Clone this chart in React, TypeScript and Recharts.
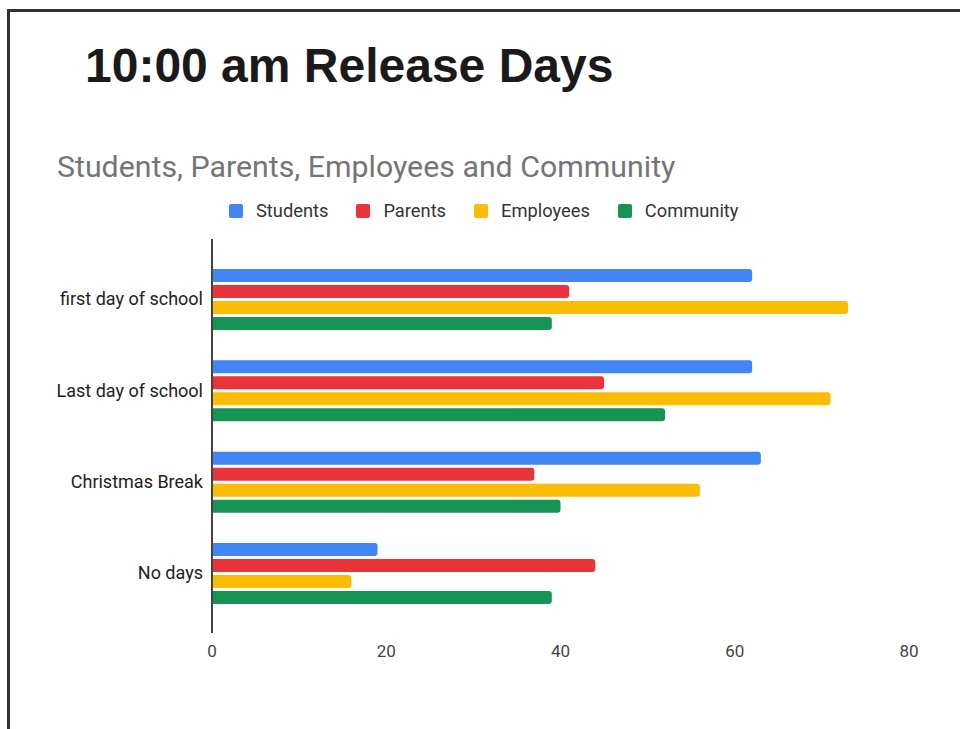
import React from "react";
import { BarChart, Bar, XAxis, YAxis, Legend } from "recharts";

const CATEGORIES = ["first day of school", "Last day of school", "Christmas Break", "No days"];
const STUDENTS = [62, 62, 63, 19];
const PARENTS = [41, 45, 37, 44];
const EMPLOYEES = [73, 71, 56, 16];
const COMMUNITY = [39, 52, 40, 39];
const X_TICKS = [0, 20, 40, 60, 80];

const SERIES = [
  { key: "Students", color: "#4285F4" },
  { key: "Parents", color: "#E9343B" },
  { key: "Employees", color: "#FBBC04" },
  { key: "Community", color: "#179354" },
];

const data = CATEGORIES.map((name, i) => ({
  name,
  Students: STUDENTS[i],
  Parents: PARENTS[i],
  Employees: EMPLOYEES[i],
  Community: COMMUNITY[i],
}));

const FONT = "Roboto, 'Noto Sans', sans-serif";
const ORDER = SERIES.map((s) => s.key);

function LegendRow({ payload }: { payload?: { value?: string; color?: string }[] }) {
  if (!payload?.length) return null;
  // keep the series order, not the alphabetical one
  const items = [...payload].sort((a, b) => ORDER.indexOf(a.value ?? "") - ORDER.indexOf(b.value ?? ""));
  return (
    <div style={{ display: "flex", alignItems: "center", gap: 28, fontFamily: FONT }}>
      {items.map((p) => (
        <div key={p.value} style={{ display: "flex", alignItems: "center" }}>
          <span
            style={{
              width: 14,
              height: 14,
              borderRadius: 2,
              background: p.color,
              display: "inline-block",
              marginRight: 13,
            }}
          />
          <span style={{ fontSize: 18.3, color: "#333", lineHeight: "20px" }}>{p.value}</span>
        </div>
      ))}
    </div>
  );
}

export default function App() {
  return (
    <div
      style={{
        position: "fixed",
        left: 0,
        top: 0,
        width: 960,
        height: 729,
        background: "#fff",
        overflow: "hidden",
      }}
    >
      {/* scanned page frame */}
      <div style={{ position: "absolute", left: 8, top: 9, width: 952, height: 2.5, background: "#333" }} />
      <div style={{ position: "absolute", left: 7, top: 9, width: 2.5, height: 720, background: "#333" }} />

      <div
        style={{
          position: "absolute",
          left: 85,
          top: 42,
          fontFamily: "'Liberation Sans', Arial, sans-serif",
          fontWeight: 700,
          fontSize: 48,
          lineHeight: 1,
          color: "#1a1a1a",
          whiteSpace: "nowrap",
        }}
      >
        10:00 am Release Days
      </div>

      <div
        style={{
          position: "absolute",
          left: 57,
          top: 152,
          fontFamily: FONT,
          fontSize: 30.3,
          lineHeight: 1,
          color: "#757575",
          whiteSpace: "nowrap",
        }}
      >
        Students, Parents, Employees and Community
      </div>

      <div style={{ position: "absolute", left: 0, top: 190 }}>
        <BarChart
          width={960}
          height={490}
          data={data}
          layout="vertical"
          margin={{ top: 63.3, right: 51, bottom: 11.3, left: 0 }}
          barCategoryGap={15.7}
          barGap={3}
        >
          <XAxis
            type="number"
            domain={[0, 80]}
            ticks={X_TICKS}
            axisLine={false}
            tickLine={false}
            tickSize={0}
            tickMargin={26}
            height={50}
            tick={{ fontSize: 17, fill: "#444", fontFamily: FONT }}
          />
          <YAxis
            type="category"
            dataKey="name"
            width={212}
            axisLine={false}
            tickLine={false}
            tickSize={0}
            tickMargin={9}
            tick={{ fontSize: 18, fill: "#222", fontFamily: FONT }}
          />
          <Legend
            verticalAlign="middle"
            align="center"
            wrapperStyle={{ top: 11, left: 229, width: "auto" }}
            content={<LegendRow />}
          />
          {SERIES.map((s) => (
            <Bar
              key={s.key}
              dataKey={s.key}
              fill={s.color}
              radius={[0, 3, 3, 0]}
              isAnimationActive={false}
            />
          ))}
        </BarChart>
      </div>

      {/* vertical axis line, drawn longer than the plot area as in the original */}
      <div style={{ position: "absolute", left: 211, top: 239, width: 2, height: 394, background: "#444" }} />
    </div>
  );
}
